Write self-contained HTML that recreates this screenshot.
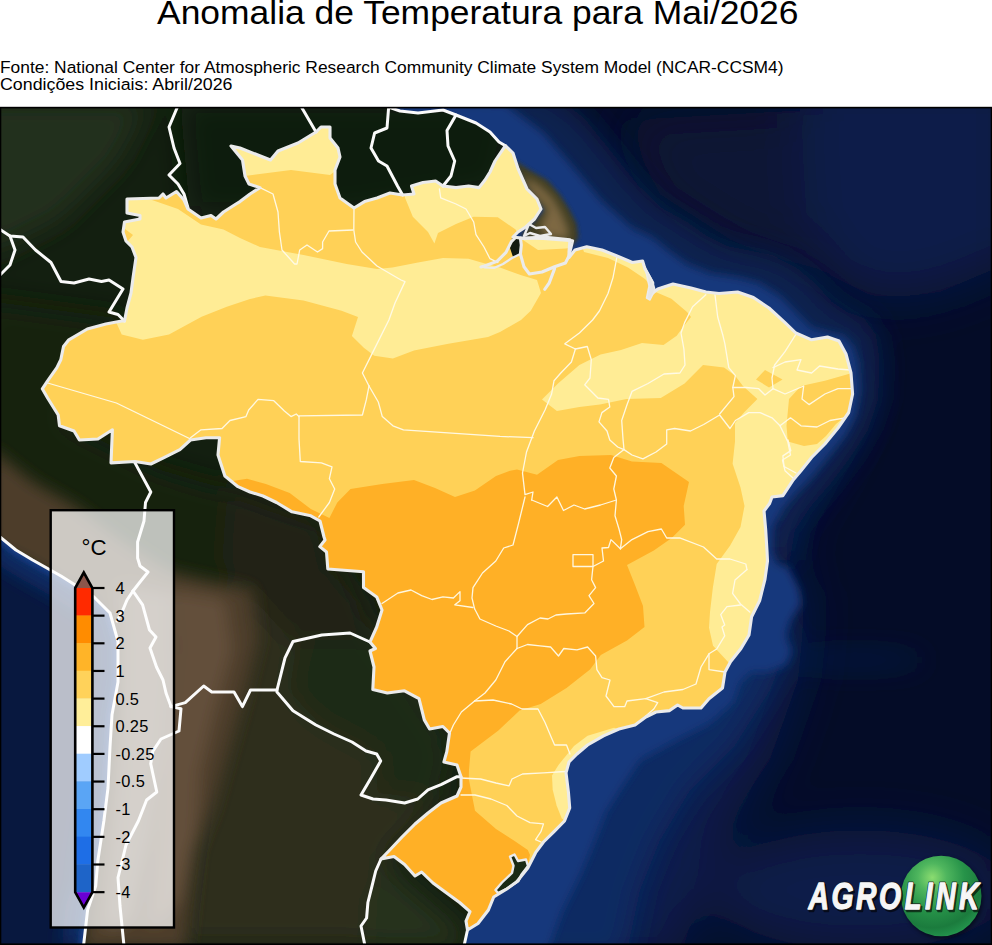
<!DOCTYPE html>
<html lang="pt"><head><meta charset="utf-8"><title>Anomalia de Temperatura para Mai/2026</title>
<style>
html,body{margin:0;padding:0;background:#fff;}
body{width:992px;height:945px;overflow:hidden;position:relative;font-family:"Liberation Sans",sans-serif;}
svg{position:absolute;left:0;top:0;display:block;}
text{font-family:"Liberation Sans",sans-serif;}
</style></head><body>
<svg width="992" height="945" viewBox="0 0 992 945">
<defs>
<clipPath id="frame"><rect x="0" y="108" width="992" height="837"/></clipPath>
<clipPath id="brazil"><path d="M127,199 L159,198 L163,194 L166,198 L176.5,191.5 L184,200 L188,209 L201,218 L211,215.5 L216,219 L223.5,212 L236,204 L240,201.6 L250,194 L260,187.6 L249,184 L245,176 L242.5,160 L231,146 L240,148 L270.5,160 L278,151 L298,143 L316,132 L321,127 L330,127 L330,138 L338,148 L340,157 L335,170 L335,184 L340,198 L354,208 L364.5,201.6 L377,198 L390,193 L402.6,195 L414,194 L411.5,186 L423,182.5 L435.6,181 L443,186 L456,187.6 L468.6,186 L479,187.6 L485,180 L490,172 L495,161 L505.4,145.7 L513,153 L518,168.6 L527,189 L537,199 L541,209 L534.6,219 L525.7,227 L518,232 L513,237 L523,238.4 L543.5,237 L570,239.7 L569,252 L569,257.5 L575,250 L586.7,246.8 L602,250 L617,256 L632.4,262.5 L642.6,261 L645,269 L652.8,283 L649,296 L657.8,289 L673,284 L691,288 L706,292 L719,293.5 L737.6,292 L753.4,297.5 L769,308 L785,322.6 L795.8,333 L811.6,339.8 L827.5,337 L839,341 L846,354 L851,373 L852.6,394 L848.7,412.5 L838,428 L824.9,444 L811.6,457.5 L801,470.7 L793.4,479.7 L782.9,495.6 L772,497 L769.6,503.5 L764,511 L765.7,530 L767,551 L767.5,561 L764.9,579.7 L759.6,600.8 L751.6,616.7 L749,635 L741,648.5 L730.5,661.7 L725,672 L722.5,688 L709,698.7 L701,708 L682.9,708 L677.6,705 L669.6,710.6 L656,712 L645.8,717 L635,725 L619,729 L603.5,735.8 L587.6,745 L577,754 L569,762 L566,772.8 L568.4,792 L569.7,808 L564.5,821 L554,831.7 L543.5,842 L535.6,852.7 L527.8,868 L517,881.5 L506.8,889 L493.7,897 L488.4,910 L478,923.5 L467.5,930 L466,921 L470,911.7 L459.6,902.5 L449,894.7 L433,883 L421.6,872 L415,876 L404.6,864.5 L394,856.6 L381,859 L388.8,851 L402,837 L415,824 L428,813 L441,803 L457,796 L461,787 L461,776.7 L457,765 L443.9,762 L446.8,751.6 L449.5,733 L442.9,726.5 L429.6,729 L424.3,719.9 L419,698.7 L404.5,690.8 L387.3,693 L372.8,689.5 L374,667 L370,651 L375.4,648.5 L370,641.9 L376.7,627 L382,610 L376.7,596.9 L363.5,587.6 L363.5,571.7 L327.8,569 L326.5,552 L319.8,546.6 L325,540 L324,537 L320,521 L310.8,515.8 L292,511.8 L276.5,502.5 L263,496 L250,492 L238,486.7 L224.9,476 L218,455 L219.6,437.7 L206,437.7 L190.5,440 L179.9,449.6 L164,457.6 L150.8,464 L135,461.5 L111,462.9 L112.4,429.8 L97.9,439 L79.4,440 L74,431 L59.5,425.8 L58.2,415 L47.6,398 L42.3,388.8 L47.6,380.8 L56.9,367.6 L60.8,359.7 L63.5,346.5 L68.8,339.8 L87.3,329 L105.8,324 L121.7,321 L124.5,321 L127,308 L131,293 L133,278 L136,257.5 L132,247 L126,241 L123,232 L124.5,222 L140,219 L140,215.5 L127,213 L127,199 Z"/></clipPath>
<clipPath id="atl"><path d="M388.6,106 L400,111 L418,113 L443,110 L456,115 L476,123 L490,132 L499,142 L505.4,145.7 L513,153 L518,168.6 L527,189 L537,199 L541,209 L534.6,219 L525.7,227 L518,232 L513,237 L523,238.4 L543.5,237 L570,239.7 L569,252 L569,257.5 L575,250 L586.7,246.8 L602,250 L617,256 L632.4,262.5 L642.6,261 L645,269 L652.8,283 L649,296 L657.8,289 L673,284 L691,288 L706,292 L719,293.5 L737.6,292 L753.4,297.5 L769,308 L785,322.6 L795.8,333 L811.6,339.8 L827.5,337 L839,341 L846,354 L851,373 L852.6,394 L848.7,412.5 L838,428 L824.9,444 L811.6,457.5 L801,470.7 L793.4,479.7 L782.9,495.6 L772,497 L769.6,503.5 L764,511 L765.7,530 L767,551 L767.5,561 L764.9,579.7 L759.6,600.8 L751.6,616.7 L749,635 L741,648.5 L730.5,661.7 L725,672 L722.5,688 L709,698.7 L701,708 L682.9,708 L677.6,705 L669.6,710.6 L656,712 L645.8,717 L635,725 L619,729 L603.5,735.8 L587.6,745 L577,754 L569,762 L566,772.8 L568.4,792 L569.7,808 L564.5,821 L554,831.7 L543.5,842 L535.6,852.7 L527.8,868 L517,881.5 L506.8,889 L493.7,897 L488.4,910 L478,923.5 L467.5,930 L464,947 L994,947 L994,106 Z"/></clipPath>
<clipPath id="pac"><path d="M-2,537 L15.9,550 L32.6,560 L61,576 L93.7,596.7 L110,613 L118,641.5 L118,682 L112,714.8 L110,747 L108,788 L103.9,820.7 L97.8,861 L95.7,886 L87.6,910 L83.5,946 L-2,947 Z"/></clipPath>
<clipPath id="legclip"><rect x="50.5" y="510" width="123.5" height="417.5"/></clipPath>
<filter id="b2" x="-50%" y="-50%" width="200%" height="200%"><feGaussianBlur stdDeviation="2"/></filter>
<filter id="b4" x="-50%" y="-50%" width="200%" height="200%"><feGaussianBlur stdDeviation="4"/></filter>
<filter id="b8" x="-50%" y="-50%" width="200%" height="200%"><feGaussianBlur stdDeviation="8"/></filter>
<filter id="b14" x="-50%" y="-50%" width="200%" height="200%"><feGaussianBlur stdDeviation="14"/></filter>
<filter id="b25" x="-50%" y="-50%" width="200%" height="200%"><feGaussianBlur stdDeviation="25"/></filter>
<filter id="b40" x="-50%" y="-50%" width="200%" height="200%"><feGaussianBlur stdDeviation="40"/></filter>
<radialGradient id="ball" cx="0.39" cy="0.27" r="0.80" fx="0.39" fy="0.27"><stop offset="0" stop-color="#8bdc70"/><stop offset="0.22" stop-color="#4fb65e"/><stop offset="0.5" stop-color="#279349"/><stop offset="0.78" stop-color="#1b7b3d"/><stop offset="0.92" stop-color="#22904a"/><stop offset="1" stop-color="#31a858"/></radialGradient>
</defs>
<text x="157" y="24.2" font-size="32.5" fill="#000" textLength="641.5" lengthAdjust="spacingAndGlyphs">Anomalia de Temperatura para Mai/2026</text>
<text x="0" y="72.5" font-size="16.8" fill="#000" textLength="783.5" lengthAdjust="spacingAndGlyphs">Fonte: National Center for Atmospheric Research Community Climate System Model (NCAR-CCSM4)</text>
<text x="0" y="89.8" font-size="16.8" fill="#000" textLength="232.5" lengthAdjust="spacingAndGlyphs">Condições Iniciais: Abril/2026</text>
<g clip-path="url(#frame)">
<rect x="0" y="108" width="992" height="837" fill="#131f10"/>
<g filter="url(#b14)">
<path d="M-20,100 L150,100 L120,160 L60,220 L-20,260 Z" fill="#263420" opacity="0.8"/>
<path d="M180,100 L520,100 L500,190 L350,215 L190,215 Z" fill="#0e1a0b"/>
<path d="M-20,300 L130,320 L60,420 L160,470 L330,520 L380,640 L460,760 L380,860 L-20,700 Z" fill="#162411"/>
<path d="M235,585 L330,575 L385,640 L450,735 L445,800 L385,860 L470,947 L175,947 L200,760 Z" fill="#2f2f1d"/>
<path d="M300,640 L372,640 L450,735 L440,800 L372,792 L382,756 L318,722 L288,690 Z" fill="#1f2915"/>
<path d="M385,862 L466,932 L462,950 L366,950 L368,900 Z" fill="#27321d"/>
<path d="M228,485 L318,522 L328,570 L365,600 L372,640 L290,640 L255,600 L222,560 Z" fill="#222314"/>
</g>
<g filter="url(#b8)">
<path d="M-10,448 L33,482 L75,506 L120,540 L170,572 L252,590 L258,640 L243,700 L226,760 L212,810 L196,850 L186,950 L80,950 L100,800 L112,700 L112,640 L90,600 L30,565 L-10,545 Z" fill="#4e3d2b"/>
<path d="M172,590 L225,600 L232,650 L215,710 L200,770 L196,840 L180,900 L150,930 L160,820 L170,720 L176,650 Z" fill="#6a5540" opacity="0.8"/>
<path d="M120,585 L170,595 L172,660 L165,740 L150,830 L130,920 L105,930 L115,820 L122,720 L122,650 Z" fill="#7a6a55" opacity="0.6"/>
</g>
<g clip-path="url(#atl)">
<rect x="380" y="106" width="620" height="945" fill="#040c27"/>
<g filter="url(#b25)">
<path d="M800,70 L1020,70 L1020,258 L940,292 L880,300 L830,275 L800,200 Z" fill="#0b1d48"/>
<path d="M620,120 L800,110 L810,275 L730,240 L660,195 Z" fill="#071536"/>
<path d="M850,340 L858,400 L830,460 L795,520 L782,560 L806,600 L798,680 L770,760 L730,820 L700,890 L680,960 L430,960 L520,860 L580,760 L680,690 L730,620 L750,520 L800,440 Z" fill="#0a1f4d"/>
<ellipse cx="860" cy="890" rx="150" ry="60" fill="#0a1d48"/>
</g>
<g filter="url(#b14)">
<path d="M770,600 L790,640 L770,690 L735,745 L690,790 L660,840 L640,890 L625,960 L430,960 L520,860 L580,760 L680,690 L730,620 Z" fill="#0e2b62"/>
<ellipse cx="855" cy="660" rx="70" ry="5" fill="#0d2655"/>
<path d="M480,90 L548,90 L584,118 L614,155 L638,185 L662,208 L687,222 L707,236 L727,246 L747,250 L772,255 L797,268 L817,285 L832,302 L847,312 L864,318 L876,335 L880,362 L878,400 L868,430 L850,458 L832,482 L812,505 L795,530 L790,560 L760,560 L760,330 L600,250 L480,200 Z" fill="#0b204f"/>
</g>
<path d="M380,100 L505,104 L543.5,133 L576.5,171 L602,201.6 L632,228 L653,238 L668.8,251 L687,264 L711,273.6 L737.6,277.6 L758.7,283 L780,296 L795.8,312 L811.6,328 L830,333 L843,335.8 L853,346 L858,362 L860,388.7 L856,415 L845,436 L832,452 L819,468 L809,480 L796,493 L783,508.8 L773,527 L772,551 L777.6,564 L788,567 L798.7,588 L801.4,604 L790.8,620 L785.5,635.8 L792,651.6 L786,664.9 L767,672 L751,672 L740.5,682 L733,702.7 L710,723 L675,741 L640,760 L620,790 L606,812 L593,845 L580,876 L562,912 L548,950 L400,950 L400,700 L600,500 L600,300 L380,200 Z" fill="#14387c" filter="url(#b4)"/>
<path d="M514,160 L531,171 L547.5,180.5 L560,195 L569,209 L576.5,223.5 L578.5,238 L571,247 L540,242 L520,236 L545,210 L525,185 Z" fill="#3f3c22" filter="url(#b2)"/>
<path d="M522,176 L538,184 L552,197 L561,212 L568,228 L569,240 L545,236 L540,226 L548,210 L530,190 Z" fill="#7d6842" filter="url(#b4)"/>
</g>
<g clip-path="url(#pac)">
<rect x="-5" y="520" width="140" height="440" fill="#08183f"/>
<path d="M0,537 L15.9,550 L32.6,560 L61,576 L93.7,596.7 L110,613 L118,641.5 L118,682 L112,714.8 L110,747 L108,788 L103.9,820.7 L97.8,861 L95.7,886 L87.6,910 L83.5,946" fill="none" stroke="#0d2a62" stroke-width="44" filter="url(#b8)"/>
<path d="M0,537 L15.9,550 L32.6,560 L61,576 L93.7,596.7 L110,613 L118,641.5 L118,682 L112,714.8 L110,747 L108,788 L103.9,820.7 L97.8,861 L95.7,886 L87.6,910 L83.5,946" fill="none" stroke="#133a80" stroke-width="11" filter="url(#b2)"/>
</g>
<g clip-path="url(#brazil)">
<rect x="30" y="110" width="840" height="840" fill="#ffd157"/>
<path d="M220,135 L245,176 L291,170 L330,175 L350,160 L340,115 L220,115 Z" fill="#ffec95"/>
<path d="M110,190 L152,200 L178,209 L201,224.5 L223.5,229.5 L240,238 L260,247 L303.5,255 L346.7,264 L377,269 L392.4,267.6 L418,262.5 L443,258 L468.6,258.7 L490,265 L500,267.6 L520.6,275 L537,280 L541,293 L530.8,310.8 L521,320 L500,332 L488,337 L448.4,343.8 L414,350.4 L392.9,358.4 L374.3,355.7 L363.8,347.8 L351.9,335.9 L358,317 L341.6,310.8 L303.5,300.6 L265.4,295.5 L250,299 L226.8,306.7 L201.6,316.7 L169,334.6 L142.9,339.8 L121.7,334.6 L116,322 L100,322 L100,190 Z" fill="#ffec95"/>
<path d="M405,185 L405,197.8 L412.8,216.8 L428,232 L434.4,243.5 L438,233 L456,224 L473.7,216.8 L497.8,217.3 L515.6,229.5 L519,236 L560,236 L560,130 L405,130 Z" fill="#ffec95"/>
<path d="M515,232 L580,232 L580,246 L566,248.6 L538,250 L523,240 Z" fill="#ffec95"/>
<path d="M580,240 L584,252 L608,258 L628,267.5 L645,279 L655.6,292 L671.4,298.8 L687,312 L691,317 L684.6,325 L676.7,335.8 L663.5,345 L642,343 L621,350 L600.5,354.4 L579.4,365 L558,383.5 L542,399.4 L556.9,411 L579.4,407 L600,404.6 L626.5,399 L660.8,398 L684.6,383.4 L703,365 L724,367.6 L735,375.5 L742.9,386 L757.4,399 L744,412.5 L735,423 L735,441.6 L732.6,463.8 L740.5,487.6 L744.5,506 L740.5,527 L730,545.8 L716.7,564 L712.8,588 L710,612 L709,627.8 L713,645.8 L729,663 L760,675 L900,675 L900,230 L580,230 Z" fill="#ffec95"/>
<path d="M614,727.8 L587.6,735.8 L574,746 L558.5,764.9 L552,775.4 L552.7,789.8 L556.6,805.5 L561.8,818.6 L570,824 L605,800 L640,735 Z" fill="#ffec95"/>
<path d="M756,379.5 L765,370 L782.5,379.5 L769,387.4 Z" fill="#ffd157"/>
<path d="M789,399 L801,386 L824.9,380.8 L856,372 L860,400 L848,414 L836,424 L826,436 L817,444 L804,446 L787.8,441.6 L786.5,425.8 Z" fill="#ffd157"/>
<path d="M125,229 L133,235 L127,242 L120,236 Z" fill="#ffd157"/>
<path d="M232.8,481 L247,478.7 L265.9,484 L289.7,493 L310.8,509 L329.4,518 L337.3,502.5 L350.5,489 L382.3,484 L414,480 L435,488 L455,497 L474.9,490.6 L496,476 L510,470.8 L517,469.5 L537,474.8 L558,460 L579.4,456 L611,455 L632,461.5 L661.4,462.9 L689,482 L683.7,506 L685,524.7 L671.7,537.9 L653.8,550.6 L627,565 L635,585 L643,606 L644.5,627 L627,640.5 L600.8,655 L590,669.6 L566.5,688 L540.7,704 L519.6,710.6 L498.4,730.5 L470.6,751.6 L469,770 L468.8,779 L475,810.8 L496,829 L514.6,841 L527.8,850 L530,855 L527.8,864.5 L536,868 L540,900 L480,960 L300,960 L200,700 L200,490 Z" fill="#ffb026"/>
<path d="M512,238 L520,237 L521,246 L520,255 L513,257 L510,248 Z" fill="#121a10"/>
<path d="M495.5,890 L502,882.5 L512,873 L513.5,865.8 L510,856.6 L514.5,854.5 L518,861 L526,859.5 L528,866 L521.5,874.5 L518.5,881 L508,888 L498,893 Z" fill="#1a2a14"/>
</g>
<g fill="none" stroke="#fffbea" stroke-width="1.3" stroke-linejoin="round" stroke-linecap="round" opacity="0.95">
<path d="M260,187.6 L273,194 L278,212 L279.4,232 L282,250 L294.6,264 L297,264 L299.7,250 L307,245 L317.5,252 L322.6,248.6 L322.6,242 L329,231 L353,230"/>
<path d="M354,208 L353.8,230 L355.6,242 L362,252 L377,266 L392.4,275 L401,280 L405,281.6 L395,303 L388.9,320 L371.7,354.4 L362.4,373 L369,386"/>
<path d="M439.4,189 L440.7,197.8 L456,204 L466,209 L473.7,222 L476,234.6 L484,247 L490,258.7 L497.8,262.5"/>
<path d="M47.6,383 L116.4,403 L190.5,439"/>
<path d="M190.5,437.7 L201,429.8 L222,428.5 L230,420.5 L246,416.6 L248.7,410 L258,399.4 L273.8,400.7 L284.4,411 L291,416.6 L296.3,414 L299,416.6"/>
<path d="M299,415.8 L362.4,415 L366.4,399.4 L369,386"/>
<path d="M369,386 L378.3,402 L382.3,416.6 L392.9,425.8 L403.4,429.8 L500,436.4 L533,437.7"/>
<path d="M299,416.6 L299,439 L300.3,461.5 L321.4,462.9 L332,466.8 L329.4,478.7 L334.7,489 L329.4,502.5 L318.8,517"/>
<path d="M617,256.5 L613,277.6 L608,293.5 L599.4,311 L592.6,320 L579.4,333 L564.8,343.8 L575.4,349"/>
<path d="M575.4,349 L571.4,362 L560.8,373 L554,380.8 L551.6,394 L545,410 L534.4,431 L526.5,452 L522.5,473 L525,494.6 L533,492 L531.7,500"/>
<path d="M525,497 L518.5,523.7 L513,545 L503.7,548 L495.8,561 L482.5,573 L473,587.6 L472,598 L474.6,608.8"/>
<path d="M575.4,349 L587.3,346.5 L591.3,359.7 L590,378 L584.7,384.8 L597.9,398 L608.5,399.4 L609.8,407 L601.9,412.6 L599,421.9 L607,431 L609.8,440 L617.7,447 L624,449.6"/>
<path d="M624,449.6 L632,455 L642.9,458.9 L656,452 L666.7,444 L666.7,429.8 L674.6,428.5 L690.5,431 L703.7,424.5 L719.6,415 L730,428.5 L735.4,420.5 L748.7,412.6 L760,412.6 L772,417.8 L780,425.8 L790.5,417.8 L801,425.8 L817,427 L830,420.5 L845,417.8"/>
<path d="M705.8,294.8 L692.6,306.7 L684.6,322.6 L681,333 L683.9,349 L685,365 L679.9,373 L664,374 L648,383.5 L632,391.4 L627,404.7 L621.7,420.5 L623,439 L624,449.6"/>
<path d="M715,294.8 L717.7,317 L723,335.8 L724.9,343.8 L728.8,367.6 L735.4,375.6 L732.8,387.5 L734,396.7 L719.6,414"/>
<path d="M732.8,387.5 L746,387.5 L758.7,388.7 L765,395 L773,388.7"/>
<path d="M795.8,334.5 L785,351.7 L774.6,365 L772,378 L773,388.7"/>
<path d="M773,367.6 L785,362 L801,359.6 L797,370 L811.6,373 L819.6,366 L838,369 L850,370"/>
<path d="M773,388.7 L785,394 L803.7,386 L802,399 L809,404.6 L824.9,394 L838,388.7 L852,388.7"/>
<path d="M780,425.8 L787.8,441.6 L790.5,455 L782.5,460 L785,470.7 L793,478"/>
<path d="M788,440 L790.8,450.6 L782.9,455.9 L784,466.5 L796,473"/>
<path d="M531.7,500 L547.6,506.5 L556.9,497 L563.5,510.5 L574,505 L584.7,509 L600.5,505 L616.4,500"/>
<path d="M624,449.6 L613.8,457.6 L609.8,468 L616.4,476 L613.8,489 L616.4,500 L615,515.8 L619,529 L621.7,539.6 L620.4,548.8"/>
<path d="M620.4,548.8 L611,539.6 L608.5,547.5 L602,548 L603.5,561 L593,566.5 L591.6,579.7 L595.6,587.6 L589,595.6 L594,603.5 L585,612.8 L566.5,614 L555.9,615 L548,619 L540,618 L527.5,624.6 L517,636.5"/>
<path d="M573,554.6 L593,554.6 L593,566.5 L573,566.5 L573,554.6"/>
<path d="M620.4,548.8 L632,539.6 L648,531.6 L661.4,529 L666.7,538 L679.7,537.9 L703.5,547 L716.7,559 L730,559 L745.8,564 L747,569.6"/>
<path d="M747,569.6 L735,580 L732.6,593.4 L740.5,604 L749.8,612"/>
<path d="M740.5,605 L727,606.7 L720.7,614.6 L724.7,625 L722,627 L724.7,635.8 L716.7,649 L709,653.8 L709,669.6 L725,672"/>
<path d="M709,653.8 L701,667 L696,684 L682.9,689.5 L664,692 L645.8,698.7"/>
<path d="M645.8,698.7 L657.7,702.7 L653.8,709 L645.8,716"/>
<path d="M645.8,698.7 L627,701 L624.7,706.7 L614,706.7 L606,696 L610,680 L602,677.6 L596.9,669.6 L595.6,656 L587.6,647 L577,649.8 L563.8,648.5 L558.5,656 L550.6,647 L540,645.8 L527.5,644.5 L517,648.5"/>
<path d="M474.6,608.8 L479.9,619 L495.8,626 L509,631 L517,636.5 L517,648.5"/>
<path d="M382,603.5 L397.9,593 L411,590 L421.7,595.6 L432,599.5 L442.9,596.9 L453.4,598 L460,591.6 L460,600.8 L454.8,604.8 L473,607.5"/>
<path d="M517,648.5 L505,661.7 L495.8,680 L485,693 L474.6,701"/>
<path d="M474.6,701 L461.4,712 L453.4,725 L449.5,734"/>
<path d="M474.6,701 L493,700 L511.6,704 L522,709 L538,709 L545,722.5 L550.6,735.8 L554.6,745 L566.5,745 L570,754"/>
<path d="M461,778 L480.6,779 L496,783 L509,785.9 L512,779 L522.5,774 L543.5,772.8 L565,771.5"/>
<path d="M461,795 L475,795 L491,799 L506.8,805.5 L517,816 L530,822.6 L543.5,823.9 L540.9,831.7 L535.6,839.6 L541,842"/>
</g>
<g fill="none" stroke="#fafafa" stroke-width="3" stroke-linejoin="round" stroke-linecap="round">
<path d="M177,108 L169,127 L174,148 L180,163.5 L169,175 L178,184 L184,194 L188,208"/>
<path d="M0,229.5 L10,236 L23,237 L35.5,250 L51,262.5 L61,281.5 L74,283 L89,279 L101.5,281.5 L109,280 L123,289 L109,312 L118,314.5 L124.5,321"/>
<path d="M10,236 L15,250 L10,265 L0,275"/>
<path d="M302,108 L316,132"/>
<path d="M388.6,108 L387,128 L374.6,133 L371,148 L378.5,161 L387,166 L397.5,186 L402.6,195"/>
<path d="M456,115 L447,130.5 L448,146 L454.7,161 L451,176 L443,186"/>
<path d="M388.6,107 L400,111 L418,113 L443,110 L456,115 L476,123 L490,132 L499,142 L505.4,145.7"/>
<path d="M135,462.9 L150.8,492 L145.5,502.5 L144,521 L137.6,542 L137.6,558 L140,566 L148,572 L140,582 L133,591"/>
<path d="M133,591 L127,600 L122,612 L117,621"/>
<path d="M133,591 L142.6,604.8 L149.5,630 L156,637 L150,648 L156.5,667 L163,680 L166,693 L171,706.6"/>
<path d="M171,706.6 L185.3,702.6 L203.7,686 L211.8,692 L234,692 L242.4,706.6 L250.5,690 L277,690"/>
<path d="M277,690 L285,657.8 L293,641.5 L321.8,635 L350,633 L370,642"/>
<path d="M277,692 L293,710.7 L315.9,725 L334,734 L352,742 L366,751 L376.7,754 L380.7,761 L371,778 L361,795 L373,799 L386,800 L404.6,803 L417.7,799 L428,789.8 L441,784.6 L457,776.7 L461,776.7"/>
<path d="M171,706.6 L181,708.7 L179,731 L161,739 L152.7,751.4 L150.7,763.7 L156.8,792 L146.6,800 L138.5,820.7 L126,845 L118,877.7 L120,906 L124,946"/>
<path d="M381,859 L375.7,871 L371.8,886.8 L367.9,902.5 L366.6,918 L361,926 L365,946"/>
<path d="M467.5,930 L464,946"/>
<path d="M0,537 L15.9,550 L32.6,560 L61,576 L93.7,596.7 L110,613 L118,641.5 L118,682 L112,714.8 L110,747 L108,788 L103.9,820.7 L97.8,861 L95.7,886 L87.6,910 L83.5,946"/>
</g>
<g fill="none" stroke="#ebebeb" stroke-width="3.1" stroke-linejoin="round" stroke-linecap="round">
<path d="M127,199 L159,198 L163,194 L166,198 L176.5,191.5 L184,200 L188,209 L201,218 L211,215.5 L216,219 L223.5,212 L236,204 L240,201.6 L250,194 L260,187.6 L249,184 L245,176 L242.5,160 L231,146 L240,148 L270.5,160 L278,151 L298,143 L316,132 L321,127 L330,127 L330,138 L338,148 L340,157 L335,170 L335,184 L340,198 L354,208 L364.5,201.6 L377,198 L390,193 L402.6,195 L414,194 L411.5,186 L423,182.5 L435.6,181 L443,186 L456,187.6 L468.6,186 L479,187.6 L485,180 L490,172 L495,161 L505.4,145.7 L513,153 L518,168.6 L527,189 L537,199 L541,209 L534.6,219 L525.7,227 L518,232 L513,237 L523,238.4 L543.5,237 L570,239.7 L569,252 L569,257.5 L575,250 L586.7,246.8 L602,250 L617,256 L632.4,262.5 L642.6,261 L645,269 L652.8,283 L649,296 L657.8,289 L673,284 L691,288 L706,292 L719,293.5 L737.6,292 L753.4,297.5 L769,308 L785,322.6 L795.8,333 L811.6,339.8 L827.5,337 L839,341 L846,354 L851,373 L852.6,394 L848.7,412.5 L838,428 L824.9,444 L811.6,457.5 L801,470.7 L793.4,479.7 L782.9,495.6 L772,497 L769.6,503.5 L764,511 L765.7,530 L767,551 L767.5,561 L764.9,579.7 L759.6,600.8 L751.6,616.7 L749,635 L741,648.5 L730.5,661.7 L725,672 L722.5,688 L709,698.7 L701,708 L682.9,708 L677.6,705 L669.6,710.6 L656,712 L645.8,717 L635,725 L619,729 L603.5,735.8 L587.6,745 L577,754 L569,762 L566,772.8 L568.4,792 L569.7,808 L564.5,821 L554,831.7 L543.5,842 L535.6,852.7 L527.8,868 L517,881.5 L506.8,889 L493.7,897 L488.4,910 L478,923.5 L467.5,930 L466,921 L470,911.7 L459.6,902.5 L449,894.7 L433,883 L421.6,872 L415,876 L404.6,864.5 L394,856.6 L381,859 L388.8,851 L402,837 L415,824 L428,813 L441,803 L457,796 L461,787 L461,776.7 L457,765 L443.9,762 L446.8,751.6 L449.5,733 L442.9,726.5 L429.6,729 L424.3,719.9 L419,698.7 L404.5,690.8 L387.3,693 L372.8,689.5 L374,667 L370,651 L375.4,648.5 L370,641.9 L376.7,627 L382,610 L376.7,596.9 L363.5,587.6 L363.5,571.7 L327.8,569 L326.5,552 L319.8,546.6 L325,540 L324,537 L320,521 L310.8,515.8 L292,511.8 L276.5,502.5 L263,496 L250,492 L238,486.7 L224.9,476 L218,455 L219.6,437.7 L206,437.7 L190.5,440 L179.9,449.6 L164,457.6 L150.8,464 L135,461.5 L111,462.9 L112.4,429.8 L97.9,439 L79.4,440 L74,431 L59.5,425.8 L58.2,415 L47.6,398 L42.3,388.8 L47.6,380.8 L56.9,367.6 L60.8,359.7 L63.5,346.5 L68.8,339.8 L87.3,329 L105.8,324 L121.7,321 L124.5,321 L127,308 L131,293 L133,278 L136,257.5 L132,247 L126,241 L123,232 L124.5,222 L140,219 L140,215.5 L127,213 L127,199 Z"/>
<path d="M520.4,238 L543.5,238.5 L572.6,240.7 L569,256 L565.4,263 L554.6,266.8 L542,272 L529.4,274 L524,266.8 L520.4,254 L521.3,245 L520.4,238"/>
<path d="M515,238 L511.4,241.6 L506,252.4 L497,261.4 L484.4,266 L481,267"/>
<path d="M520.4,254 L512,258 L503,264 L494,268 L484.4,267.5" stroke-width="2.2"/>
<path d="M529,224 L536,228 L545,227 L551,234 L540,236 L530,233 L524,236 Z" stroke-width="2.4"/>
<path d="M554.6,268.6 L549.2,283 L544.7,289.3"/>
<path d="M645,267 L652.5,281 L655,290 L650,300 L646.5,298 L649,286 Z" fill="#e6e6e6" stroke-width="1.5"/>
<path d="M495.5,890 L502,882.5 L512,873 L513.5,865.8 L510,856.6 L514.5,854.5 L518,861 L526,859.5 L528,866 L521.5,874.5 L518.5,881 L508,888 L498,893 Z" stroke-width="2.4"/>
</g>
<rect x="50.7" y="510.2" width="123.3" height="417.3" fill="#ffffff" fill-opacity="0.72"/>
<rect x="50.7" y="510.2" width="123.3" height="417.3" fill="none" stroke="#000" stroke-width="2.4"/>
<text x="94" y="554.5" font-size="22" text-anchor="middle" fill="#000" textLength="25" lengthAdjust="spacingAndGlyphs">°C</text>
<rect x="75.2" y="587.8" width="17.2" height="28.05" fill="#ff2a00"/>
<rect x="75.2" y="615.45" width="17.2" height="28.05" fill="#ff8c00"/>
<rect x="75.2" y="643.1" width="17.2" height="28.05" fill="#ffb428"/>
<rect x="75.2" y="670.75" width="17.2" height="28.05" fill="#ffd25a"/>
<rect x="75.2" y="698.4" width="17.2" height="28.05" fill="#ffee99"/>
<rect x="75.2" y="726.05" width="17.2" height="28.05" fill="#ffffff"/>
<rect x="75.2" y="753.7" width="17.2" height="28.05" fill="#a0ccff"/>
<rect x="75.2" y="781.35" width="17.2" height="28.05" fill="#5aa5f5"/>
<rect x="75.2" y="809" width="17.2" height="28.05" fill="#3287f0"/>
<rect x="75.2" y="836.65" width="17.2" height="28.05" fill="#1e6ee6"/>
<rect x="75.2" y="864.3" width="17.2" height="28.05" fill="#1e64c8"/>
<path d="M75.2,588 L83.8,572.5 L92.4,588 Z" fill="#8c564b"/>
<path d="M75.2,892.15 L83.8,907.65 L92.4,892.15 Z" fill="#6a00d4"/>
<path d="M75.2,588 L83.8,572.5 L92.4,588 L92.4,892.15 L83.8,907.65 L75.2,892.15 Z" fill="none" stroke="#000" stroke-width="2.6" stroke-linejoin="miter"/>
<path d="M92.4,588 L104.5,588" stroke="#000" stroke-width="2.2"/>
<text x="115.5" y="593.9" font-size="16.4" letter-spacing="0.35" fill="#000">4</text>
<path d="M92.4,615.65 L104.5,615.65" stroke="#000" stroke-width="2.2"/>
<text x="115.5" y="621.55" font-size="16.4" letter-spacing="0.35" fill="#000">3</text>
<path d="M92.4,643.3 L104.5,643.3" stroke="#000" stroke-width="2.2"/>
<text x="115.5" y="649.2" font-size="16.4" letter-spacing="0.35" fill="#000">2</text>
<path d="M92.4,670.95 L104.5,670.95" stroke="#000" stroke-width="2.2"/>
<text x="115.5" y="676.85" font-size="16.4" letter-spacing="0.35" fill="#000">1</text>
<path d="M92.4,698.6 L104.5,698.6" stroke="#000" stroke-width="2.2"/>
<text x="115.5" y="704.5" font-size="16.4" letter-spacing="0.35" fill="#000">0.5</text>
<path d="M92.4,726.25 L104.5,726.25" stroke="#000" stroke-width="2.2"/>
<text x="115.5" y="732.15" font-size="16.4" letter-spacing="0.35" fill="#000">0.25</text>
<path d="M92.4,753.9 L104.5,753.9" stroke="#000" stroke-width="2.2"/>
<text x="115.5" y="759.8" font-size="16.4" letter-spacing="0.35" fill="#000">-0.25</text>
<path d="M92.4,781.55 L104.5,781.55" stroke="#000" stroke-width="2.2"/>
<text x="115.5" y="787.45" font-size="16.4" letter-spacing="0.35" fill="#000">-0.5</text>
<path d="M92.4,809.2 L104.5,809.2" stroke="#000" stroke-width="2.2"/>
<text x="115.5" y="815.1" font-size="16.4" letter-spacing="0.35" fill="#000">-1</text>
<path d="M92.4,836.85 L104.5,836.85" stroke="#000" stroke-width="2.2"/>
<text x="115.5" y="842.75" font-size="16.4" letter-spacing="0.35" fill="#000">-2</text>
<path d="M92.4,864.5 L104.5,864.5" stroke="#000" stroke-width="2.2"/>
<text x="115.5" y="870.4" font-size="16.4" letter-spacing="0.35" fill="#000">-3</text>
<path d="M92.4,892.15 L104.5,892.15" stroke="#000" stroke-width="2.2"/>
<text x="115.5" y="898.05" font-size="16.4" letter-spacing="0.35" fill="#000">-4</text>
<circle cx="942.5" cy="898" r="40.3" fill="#000" opacity="0.55" filter="url(#b2)"/>
<circle cx="941.2" cy="896" r="40.3" fill="url(#ball)"/>
<g font-weight="bold" font-style="italic" font-size="37" stroke-linejoin="round">
<text transform="translate(810,910.6) scale(0.765,1)" letter-spacing="3.4" fill="#000" stroke="#000" stroke-width="2.4" opacity="0.6">AGRO</text>
<text transform="translate(808.4,908.8) scale(0.765,1)" letter-spacing="3.4" fill="#222" stroke="#1c1c1c" stroke-width="3.0" opacity="0.85">AGRO</text>
<text transform="translate(808.4,908.8) scale(0.765,1)" letter-spacing="3.4" fill="#f6f6f6" stroke="#f6f6f6" stroke-width="1.3">AGRO</text>
<text transform="translate(906.4,910.6) scale(0.74,1)" letter-spacing="4.6" fill="#000" stroke="#000" stroke-width="2.4" opacity="0.6">LINK</text>
<text transform="translate(904.8,908.8) scale(0.74,1)" letter-spacing="4.6" fill="#222" stroke="#1c1c1c" stroke-width="3.0" opacity="0.85">LINK</text>
<text transform="translate(904.8,908.8) scale(0.74,1)" letter-spacing="4.6" fill="#f6f6f6" stroke="#f6f6f6" stroke-width="1.3">LINK</text>
</g>
</g>
<rect x="0.5" y="107.6" width="991" height="836.6" fill="none" stroke="#000" stroke-width="1.6"/>
</svg></body></html>
